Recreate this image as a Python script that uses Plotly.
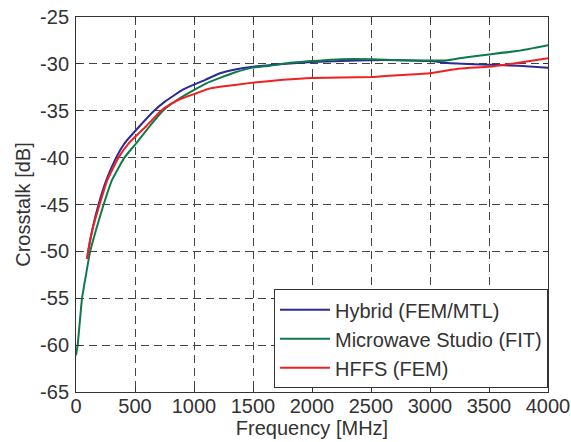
import plotly.graph_objects as go

# Hybrid (FEM/MTL)
hyb_f = [94, 103, 143, 191, 257, 340, 410, 542, 662, 756, 913, 1096, 1220, 1350, 1500,
         1750, 2000, 2250, 2500, 2750, 3000, 3150, 3500, 3750, 4000]
hyb_db = [-50.8, -50.0, -47.4, -45.0, -42.4, -40.0, -38.5, -36.6, -35.0, -34.0, -32.7, -31.7,
          -31.0, -30.6, -30.3, -30.0, -29.8, -29.7, -29.6, -29.6, -29.7, -29.9, -30.1, -30.2, -30.4]

# Microwave Studio (FIT)
mws_f = [0, 14, 51, 86, 120, 177, 234, 305, 410, 508, 628, 736, 870, 1013, 1100, 1220, 1350, 1500,
         1644, 1800, 2000, 2250, 2500, 2750, 3000, 3150, 3250, 3500, 3750, 4000]
mws_db = [-61.1, -60.0, -55.0, -52.4, -50.0, -47.4, -45.0, -42.4, -40.0, -38.5, -36.6, -35.0,
          -33.75, -32.7, -32.1, -31.5, -30.9, -30.4, -30.2, -29.9, -29.7, -29.5, -29.5, -29.6,
          -29.65, -29.6, -29.4, -29.0, -28.6, -28.0]

# HFFS (FEM)
hfss_f = [94, 103, 145, 200, 265, 360, 445, 599, 720, 800, 884, 1027, 1113, 1220, 1500, 1754, 2000,
          2500, 2720, 3000, 3254, 3500, 3737, 4000]
hfss_db = [-50.8, -50.0, -47.4, -45.0, -42.4, -40.0, -38.5, -36.6, -35.0, -34.3, -33.75, -33.1,
           -32.7, -32.45, -32.0, -31.7, -31.5, -31.4, -31.2, -31.0, -30.5, -30.3, -29.9, -29.4]

x_ticks = [0, 500, 1000, 1500, 2000, 2500, 3000, 3500, 4000]
y_ticks = [-65, -60, -55, -50, -45, -40, -35, -30, -25]

fig = go.Figure()
fig.add_trace(go.Scatter(x=hyb_f, y=hyb_db, mode="lines", name="Hybrid (FEM/MTL)",
                         line=dict(color="#2b2b96", width=2, shape="spline", smoothing=0.4)))
fig.add_trace(go.Scatter(x=mws_f, y=mws_db, mode="lines", name="Microwave Studio (FIT)",
                         line=dict(color="#0d7a4c", width=2, shape="spline", smoothing=0.4)))
fig.add_trace(go.Scatter(x=hfss_f, y=hfss_db, mode="lines", name="HFFS (FEM)",
                         line=dict(color="#f02020", width=2, shape="spline", smoothing=0.4)))

font = dict(family="Liberation Sans, Arial, sans-serif", size=20, color="#333333")
axis_common = dict(showline=True, linecolor="#333333", linewidth=1, mirror="ticks",
                   ticks="inside", ticklen=5, tickcolor="#333333",
                   showgrid=True, gridcolor="#444444", griddash="8px,5px", gridwidth=1,
                   zeroline=False, tickfont=font, automargin=False,
                   ticklabeloverflow="allow")

fig.update_layout(
    width=571, height=442,
    margin=dict(l=76, r=23, t=17, b=50),
    paper_bgcolor="white", plot_bgcolor="white",
    font=font,
    showlegend=True,
    legend=dict(x=1, y=0.01, xanchor="right", yanchor="bottom",
                bgcolor="white", bordercolor="#333333", borderwidth=1,
                font=dict(family="Liberation Sans, Arial, sans-serif", size=20, color="#333333"),
                tracegroupgap=0, itemwidth=50),
    xaxis=dict(range=[0, 4000], tickvals=x_ticks, ticktext=[str(v) for v in x_ticks],
               ticklabelstandoff=-4,
               title=dict(text="Frequency [MHz]", font=font, standoff=2), **axis_common),
    yaxis=dict(range=[-65, -25], tickvals=y_ticks, ticktext=[str(v) for v in y_ticks],
               ticklabelstandoff=2,
               title=dict(text="Crosstalk [dB]", font=font, standoff=4), **axis_common),
)

fig.write_html("out.html", post_script="document.body.style.margin='0px';",
               config={"displayModeBar": False})
